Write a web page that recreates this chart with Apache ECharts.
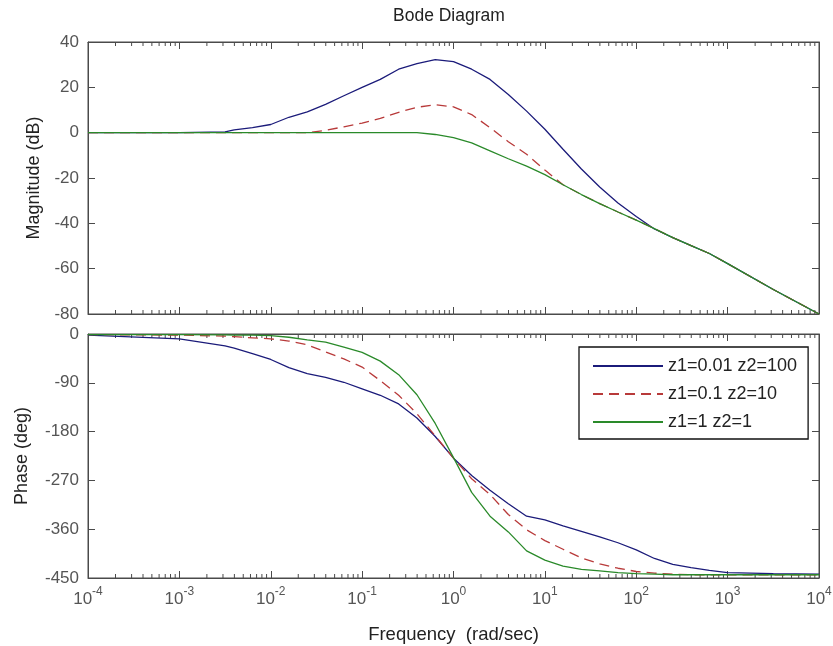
<!DOCTYPE html>
<html><head><meta charset="utf-8">
<script src="https://cdn.jsdelivr.net/npm/echarts@6/dist/echarts.min.js"></script>
<style>html,body{margin:0;padding:0;background:#fff}#c{width:833px;height:646px}</style>
</head><body><div id="c"></div>
<script>
const freq = [1e-4, 1e-3, 3.16e-3, 3.98e-3, 6.31e-3, 0.01, 0.0158, 0.0251, 0.0398, 0.0631,
  0.1, 0.158, 0.251, 0.398, 0.631, 1, 1.58, 2.51, 3.98, 6.31,
  10, 15.8, 25.1, 39.8, 63.1, 100, 158, 251, 398, 631, 1000, 3162, 10000];

// Magnitude (dB)
const magBlue  = [0, 0, 0.3, 1.2, 2.2, 3.6, 6.8, 9.2, 12.5, 16.3,
  20, 23.5, 28, 30.5, 32.2, 31.3, 28, 23.5, 16.8, 9.5,
  1.5, -7.3, -16, -24, -31, -37, -42.5, -46.3, -49.8, -53.3, -57.8, -69.2, -80];
const magRed   = [0, 0, 0, 0, 0, 0, 0, 0, 1, 2.6,
  4.2, 6.3, 9, 11.2, 12.3, 11.4, 8, 2.2, -4, -9.5,
  -16.5, -23, -27.3, -31.3, -35, -38.6, -42.3, -46.3, -49.8, -53.3, -57.8, -69.2, -80];
const magGreen = [0, 0, 0, 0, 0, 0, 0, 0, 0, 0,
  0, 0, 0, 0, -0.8, -2.2, -4.5, -8, -11.5, -14.8,
  -18.5, -23, -27.3, -31.3, -35, -38.6, -42.3, -46.3, -49.8, -53.3, -57.8, -69.2, -80];

// Phase (deg)
const phBlue  = [-2, -9, -22, -26, -36, -47, -62, -73, -80, -89,
  -101, -113, -129, -155, -189, -229, -261, -288, -313, -336,
  -343, -354, -364, -374, -385, -398, -414, -425, -431, -436, -440, -442, -443];
const phRed   = [-1, -2, -4, -5, -7, -9, -13, -20, -33, -46,
  -61, -86, -113, -147, -188, -229, -267, -296, -333, -361,
  -381, -397, -413, -424, -432, -438, -441, -443, -444, -444, -444, -444, -444];
const phGreen = [-1, -1, -1.5, -2, -2, -3, -6, -11, -15, -24,
  -34, -50, -75, -112, -165, -228, -292, -336, -365, -400,
  -417, -428, -434, -437, -440, -442, -443, -444, -444, -444, -444, -444, -444];

const seriesNames = ['z1=0.01 z2=100', 'z1=0.1 z2=10', 'z1=1 z2=1'];
const magRange = [-80, 40];
const phRange = [-450, 0];
const xRange = [1e-4, 1e4];
const decadeExps = [-4, -3, -2, -1, 0, 1, 2, 3];
const minorMult = [2, 3, 4, 5, 6, 7, 8, 9];

const FONT = "'Liberation Sans', Arial, sans-serif";
const AX = '#4a4a4a';
const colors = ['#1b1b7a', '#b83a3a', '#2a8a2a'];

const minorFreqs = [];
decadeExps.forEach(e => minorMult.forEach(m => minorFreqs.push(m * Math.pow(10, e))));

function minorTickSeries(xi, yi, ymin, ymax) {
  return {
    type: 'custom', xAxisIndex: xi, yAxisIndex: yi, silent: true, clip: false, z: 1,
    data: minorFreqs.map(f => [f, ymax]),
    encode: { x: 0, y: 1 },
    renderItem: function (params, api) {
      const f = api.value(0);
      const t = api.coord([f, ymax]);
      const b = api.coord([f, ymin]);
      const st = { stroke: AX, lineWidth: 1 };
      return { type: 'group', children: [
        { type: 'line', shape: { x1: t[0], y1: t[1], x2: t[0], y2: t[1] + 4 }, style: st },
        { type: 'line', shape: { x1: b[0], y1: b[1], x2: b[0], y2: b[1] - 4 }, style: st }
      ]};
    }
  };
}

function xAx(grid, pos, labels) {
  return {
    type: 'log', logBase: 10, gridIndex: grid, position: pos,
    min: xRange[0], max: xRange[1], splitNumber: 8,
    axisLine: { show: true, onZero: false, lineStyle: { color: AX, width: 1 } },
    axisTick: { show: true, inside: true, length: 7, lineStyle: { color: AX, width: 1 } },
    minorTick: { show: false },
    splitLine: { show: false },
    axisLabel: labels ? {
      show: true, margin: 8,
      formatter: v => '{b|10}{s|' + Math.round(Math.log10(v)) + '}',
      rich: {
        b: { fontSize: 17, fontFamily: FONT, color: '#555', verticalAlign: 'bottom' },
        s: { fontSize: 12, fontFamily: FONT, color: '#555', verticalAlign: 'top', padding: [0, 0, 10, 0] }
      }
    } : { show: false }
  };
}
function yAx(grid, pos, mn, mx, iv, name, gap) {
  const o = {
    type: 'value', gridIndex: grid, position: pos, min: mn, max: mx, interval: iv,
    axisLine: { show: true, onZero: false, lineStyle: { color: AX, width: 1 } },
    axisTick: { show: true, inside: true, length: 7, lineStyle: { color: AX, width: 1 } },
    splitLine: { show: false },
    axisLabel: pos === 'left' ? { show: true, margin: 9, fontSize: 17, fontFamily: FONT, color: '#555' } : { show: false }
  };
  if (name) {
    o.name = name; o.nameLocation = 'middle'; o.nameGap = gap;
    o.nameTextStyle = { fontSize: 18, fontFamily: FONT, color: '#222' };
  }
  return o;
}

const lineSeries = [];
[[magBlue, phBlue], [magRed, phRed], [magGreen, phGreen]].forEach((pair, k) => {
  const ls = { color: colors[k], width: 1.3, type: k === 1 ? [10, 6] : 'solid' };
  lineSeries.push({
    name: seriesNames[k], type: 'line', xAxisIndex: 0, yAxisIndex: 0,
    symbol: 'none', showSymbol: false, color: colors[k], lineStyle: ls, z: 3,
    data: freq.map((f, i) => [f, pair[0][i]])
  });
  lineSeries.push({
    name: seriesNames[k], type: 'line', xAxisIndex: 2, yAxisIndex: 2,
    symbol: 'none', showSymbol: false, color: colors[k], lineStyle: ls, z: 3,
    data: freq.map((f, i) => [f, pair[1][i]])
  });
});

const chart = echarts.init(document.getElementById('c'));
chart.setOption({
  animation: false,
  backgroundColor: '#fff',
  title: { text: 'Bode Diagram', left: 393, top: 7, padding: 0,
    textStyle: { fontSize: 17.5, fontWeight: 'normal', fontFamily: FONT, color: '#222' } },
  grid: [
    { left: 88, top: 42, width: 731, height: 272, show: true, borderColor: AX, borderWidth: 1, backgroundColor: '#fff', containLabel: false, outerBoundsMode: 'none' },
    { left: 88, top: 334, width: 731, height: 244, show: true, borderColor: AX, borderWidth: 1, backgroundColor: '#fff', containLabel: false, outerBoundsMode: 'none' }
  ],
  xAxis: [
    xAx(0, 'bottom', false),
    xAx(0, 'top', false),
    Object.assign(xAx(1, 'bottom', true), {
      name: 'Frequency  (rad/sec)', nameLocation: 'middle', nameGap: 47,
      nameTextStyle: { fontSize: 18.5, fontFamily: FONT, color: '#222' }
    }),
    xAx(1, 'top', false)
  ],
  yAxis: [
    yAx(0, 'left', magRange[0], magRange[1], 20, 'Magnitude (dB)', 44),
    yAx(0, 'right', magRange[0], magRange[1], 20),
    yAx(1, 'left', phRange[0], phRange[1], 90, 'Phase (deg)', 57),
    yAx(1, 'right', phRange[0], phRange[1], 90)
  ],
  legend: {
    data: seriesNames, orient: 'vertical', left: 579, top: 347,
    itemWidth: 70, itemHeight: 14, itemGap: 10, padding: [10, 11, 8, 13],
    borderColor: '#111', borderWidth: 1.3, backgroundColor: '#fff', borderRadius: 0,
    itemStyle: { opacity: 0 },
    textStyle: { fontSize: 18, fontFamily: FONT, color: '#222' },
    selectedMode: false
  },
  series: lineSeries.concat([
    minorTickSeries(0, 0, magRange[0], magRange[1]),
    minorTickSeries(2, 2, phRange[0], phRange[1])
  ])
});
</script></body></html>
